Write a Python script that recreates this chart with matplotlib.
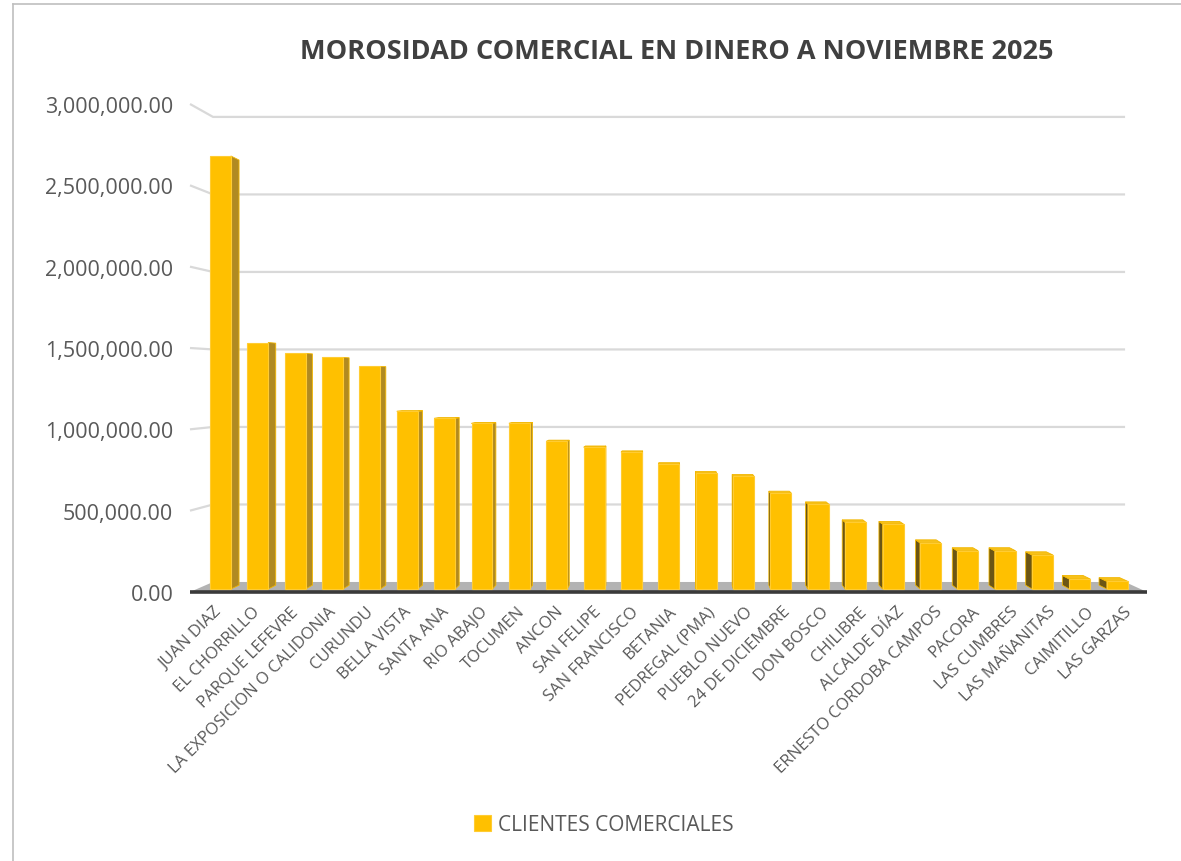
#!/usr/bin/env python3
# -*- coding: utf-8 -*-

import matplotlib
matplotlib.use('Agg')
import matplotlib.pyplot as plt
from matplotlib.patches import Polygon
from matplotlib.lines   import Line2D
from matplotlib.ticker  import FuncFormatter


barrios = [ 'JUAN DIAZ', 'EL CHORRILLO', 'PARQUE LEFEVRE'
          , 'LA EXPOSICION O CALIDONIA', 'CURUNDU', 'BELLA VISTA'
          , 'SANTA ANA', 'RIO ABAJO', 'TOCUMEN', 'ANCON', 'SAN FELIPE'
          , 'SAN FRANCISCO', 'BETANIA', 'PEDREGAL (PMA)', 'PUEBLO NUEVO'
          , '24 DE DICIEMBRE', 'DON BOSCO', 'CHILIBRE', 'ALCALDE DÍAZ'
          , 'ERNESTO CORDOBA CAMPOS', 'PACORA', 'LAS CUMBRES'
          , 'LAS MAÑANITAS', 'CAIMITILLO', 'LAS GARZAS'
          ]

morosidad = [ 2700000, 1537000, 1469000, 1444000, 1388000, 1108000
            , 1064000, 1033000, 1033000, 921000, 884000, 853000
            , 778000, 722000, 703000, 597000, 529000, 415000
            , 405000, 288000, 238000, 238000, 212000, 62000, 48000
            ]

serie   = 'CLIENTES COMERCIALES'
titulo  = 'MOROSIDAD COMERCIAL EN DINERO A NOVIEMBRE 2025'
y_ticks = [0, 500000, 1000000, 1500000, 2000000, 2500000, 3000000]

# pseudo 3D view (perspective towards a vanishing point)
VP_X, VP_Y = 12.3, 1310000
DEPTH      = 0.047
Z_FRONT    = 0.30
Z_BACK     = 0.68
HALF_W     = 0.28
X_LO, X_HI = -0.63, 24.62

FONT = ['Open Sans', 'DejaVu Sans']


def proj(x, y, z):
    k = z * DEPTH
    return x + k * (VP_X - x), y + k * (VP_Y - y)


def face(pts):
    return [proj(*p) for p in pts]


def draw_walls(ax):
    for v in y_ticks[1:]:
        front = proj(X_LO, v, 0)
        back_l = proj(X_LO, v, 1)
        back_r = proj(X_HI, v, 1)
        ax.plot([front[0], back_l[0], back_r[0]], [front[1], back_l[1], back_r[1]],
                color='#d9d9d9', lw=1.6, solid_capstyle='butt', zorder=1,
                clip_on=False)

    floor = face([(X_LO, 0, 0), (X_HI, 0, 0), (X_HI, 0, 1), (X_LO, 0, 1)])
    ax.add_patch(Polygon(floor, closed=True, facecolor='#b3b3b3',
                         edgecolor='none', zorder=2, clip_on=False))
    ax.plot([X_LO, X_HI], [0, 0], color='#3a3a3a', lw=2.6, zorder=2.5,
            solid_capstyle='butt', clip_on=False)


def draw_bars(ax):
    xs = range(len(morosidad))
    k0 = Z_FRONT * DEPTH

    for x, v in zip(xs, morosidad):
        if x < VP_X:
            side = [(x + HALF_W, 0, Z_FRONT), (x + HALF_W, v, Z_FRONT),
                    (x + HALF_W, v, Z_BACK), (x + HALF_W, 0, Z_BACK)]
            side_col = '#b08a22'
        else:
            side = [(x - HALF_W, 0, Z_FRONT), (x - HALF_W, v, Z_FRONT),
                    (x - HALF_W, v, Z_BACK), (x - HALF_W, 0, Z_BACK)]
            side_col = '#6b5514'
        ax.add_patch(Polygon(face(side), closed=True, facecolor=side_col,
                             edgecolor='#f2b600', lw=0.6, zorder=3,
                             clip_on=False))
        if v < VP_Y:
            top = [(x - HALF_W, v, Z_FRONT), (x + HALF_W, v, Z_FRONT),
                   (x + HALF_W, v, Z_BACK), (x - HALF_W, v, Z_BACK)]
            ax.add_patch(Polygon(face(top), closed=True, facecolor='#f7c11a',
                                 edgecolor='#f2b600', lw=0.6, zorder=3,
                                 clip_on=False))

    # front faces: an affine copy of each bar
    fx      = [x + k0 * (VP_X - x) for x in xs]
    bottoms = [k0 * VP_Y for _ in xs]
    heights = [v * (1 - k0) for v in morosidad]
    bars = ax.bar(fx, heights, bottom=bottoms, width=2 * HALF_W * (1 - k0),
                  color='#ffc000', edgecolor='#ffcc33', linewidth=0.8,
                  zorder=4, label=serie)
    return bars


def main():
    fig = plt.figure(figsize=(11.81, 8.62), dpi=100)
    W, H = 1181, 862

    ax = fig.add_axes([190 / W, (H - 593) / H, (1147 - 190) / W, (593 - 105) / H])
    ax.set_xlim(X_LO, X_HI)
    ax.set_ylim(0, 3000000)
    for s in ax.spines.values():
        s.set_visible(False)

    draw_walls(ax)
    bars = draw_bars(ax)

    ax.set_yticks(y_ticks)
    ax.yaxis.set_major_formatter(FuncFormatter(lambda v, _: f'{v:,.2f}'))
    ax.tick_params(axis='y', length=0, pad=12, labelsize=15.5, labelcolor='#595959')
    for t in ax.get_yticklabels():
        t.set_fontfamily(FONT)

    ax.set_xticks(range(len(barrios)))
    ax.set_xticklabels(barrios, rotation=45, ha='right', va='top',
                       rotation_mode='anchor', fontsize=12, color='#595959',
                       fontfamily=FONT)
    ax.tick_params(axis='x', length=0, pad=8)

    fig.text(677 / W, 1 - 52 / H, titulo, ha='center', va='center',
             fontsize=19.5, fontweight='bold', color='#404040', fontfamily=FONT)

    fig.legend([bars], [serie], loc='center', bbox_to_anchor=(604 / W, 1 - 826 / H),
               frameon=False, handlelength=0.8, handleheight=0.8,
               handletextpad=0.35, prop={'family': FONT, 'size': 15},
               labelcolor='#595959')

    fig.add_artist(Line2D([13 / W, 1], [1 - 5 / H, 1 - 5 / H], color='#bfbfbf',
                          lw=1.2, transform=fig.transFigure))
    fig.add_artist(Line2D([13 / W, 13 / W], [0, 1 - 5 / H], color='#bfbfbf',
                          lw=1.2, transform=fig.transFigure))

    fig.savefig('out.png', dpi=100)


if __name__ == '__main__':
    main()
